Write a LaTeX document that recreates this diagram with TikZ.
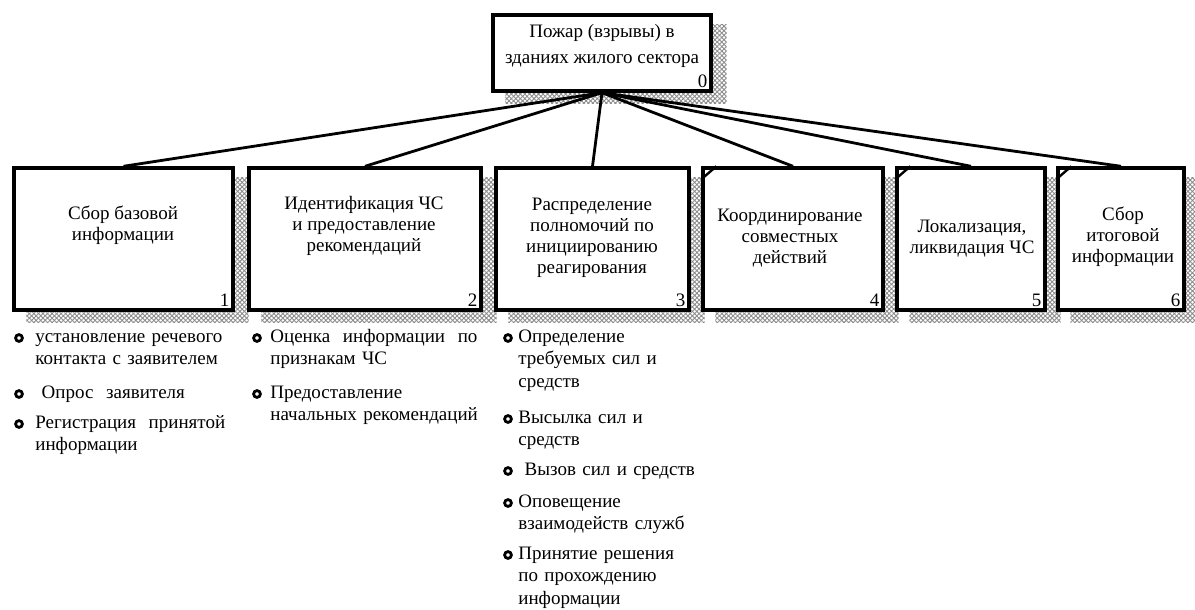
\documentclass[tikz,border=0pt]{standalone}
\usepackage{fontspec}
\setmainfont{Liberation Serif}
\usepackage{tikz}
\usetikzlibrary{fit, patterns.meta}
\pgfdeclarelayer{bg}
\pgfsetlayers{bg,main}

\begin{document}
\begin{tikzpicture}[x=0.5pt, y=-0.5pt,
    blk/.style={draw, line width=1.7pt, fill=white, inner sep=0pt},
    shade/.style={pattern={Hatch[distance=1.6pt, angle=45, line width=0.45pt]}, pattern color=black!45},
    lbl/.style={align=center, inner sep=0pt, font=\fontsize{9.5}{10.5}\selectfont},
    num/.style={anchor=south east, inner sep=0pt, font=\fontsize{9.5}{10.5}\selectfont},
    link/.style={line width=1.4pt},
    item/.style={anchor=base west, inner sep=0pt, text width=110pt, align=left, font=\fontsize{9.5}{11.3}\selectfont},
    ring/.style={circle, draw, line width=1.4pt, inner sep=0pt, minimum size=3.4pt}]
  \useasboundingbox (0,0) rectangle (1195,610);

  % parent and the six sub-functions
  \node[blk, fit={(493,15) (711,91)}] (b0) {};
  \node[blk, fit={(14,168) (233,310)}] (b1) {};
  \node[blk, fit={(249,168) (481,310)}] (b2) {};
  \node[blk, fit={(496,168) (689,310)}] (b3) {};
  \node[blk, fit={(703,168) (883,310)}] (b4) {};
  \node[blk, fit={(897,168) (1045,310)}] (b5) {};
  \node[blk, fit={(1058,168) (1184,310)}] (b6) {};

  \begin{pgfonlayer}{bg}
    \foreach \i in {0,...,6}
      \fill[shade] ([shift={(14,11)}]b\i.south west) rectangle ([shift={(14,11)}]b\i.north east);
  \end{pgfonlayer}

  \foreach \i in {1,...,6} \draw[link] (b0.south) -- (b\i.north);
  % not decomposed
  \foreach \i in {4,5,6} \draw[line width=1.2pt] ([shift={(0,13)}]b\i.north west) -- ([shift={(15,0)}]b\i.north west);

  \node[lbl, font=\fontsize{9.5}{13}\selectfont] (t0) at (602,46) {Пожар (взрывы) в\\зданиях жилого сектора};
  \node[lbl] (t1) at (123,225) {Сбор базовой\\информации};
  \node[lbl] (t2) at (364,226) {Идентификация ЧС\\и предоставление\\рекомендаций};
  \node[lbl] (t3) at (592,238) {Распределение\\полномочий по\\инициированию\\реагирования};
  \node[lbl] (t4) at (790,238) {Координирование\\совместных\\действий};
  \node[lbl] (t5) at (972,239) {Локализация,\\ликвидация ЧС};
  \node[lbl] (t6) at (1123,237) {Сбор\\итоговой\\информации};

  \foreach \i in {0,...,6} \node[num] (n\i) at ([shift={(-5,-5)}]b\i.south east) {\i};

  % lists under 1, 2, 3
  \node[item] (p11) at (35,342) {установление речевого\\контакта с заявителем};
  \node[item] (p12) at (35,398) {\ Опрос\ \ заявителя};
  \node[item] (p13) at (35,428) {Регистрация\ \ принятой\\информации};

  \node[item] (p21) at (270,342) {Оценка\ \ информации\ \ по\\признакам ЧС};
  \node[item] (p22) at (270,398) {Предоставление\\начальных рекомендаций};

  \node[item] (p31) at (518,342) {Определение\\требуемых сил и\\средств};
  \node[item] (p32) at (518,423) {Высылка сил и\\средств};
  \node[item] (p33) at (518,475) {\ Вызов сил и средств};
  \node[item] (p34) at (518,507) {Оповещение\\взаимодейств служб};
  \node[item] (p35) at (518,559) {Принятие решения\\по прохождению\\информации};

  \foreach \n/\x/\y in {11/19/338, 12/19/394, 13/19/424, 21/257/338, 22/257/394,
      31/508/338, 32/508/419, 33/508/471, 34/508/503, 35/508/555}
    \node[ring] (r\n) at (\x,\y) {};
\end{tikzpicture}
\end{document}
